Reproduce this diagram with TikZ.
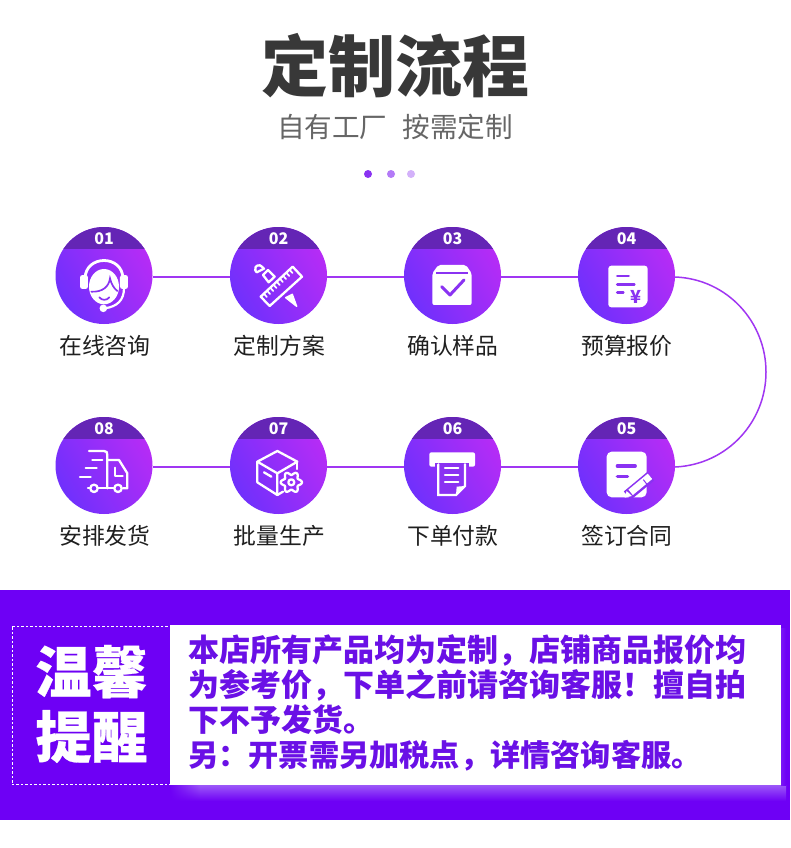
\documentclass[tikz,border=0pt]{standalone}
\usepackage{fontspec}
\newfontfamily\cjk{Noto Sans CJK SC}
\newfontfamily\cjkheavy[BoldFeatures={FakeBold=.5}]{Noto Sans CJK SC}
\usetikzlibrary{calc,fadings}
\definecolor{cA}{HTML}{7030FC}
\definecolor{cB}{HTML}{B62CF6}
\definecolor{cBand}{HTML}{6425B5}
\definecolor{cLine}{HTML}{A036F2}
\definecolor{cBan}{HTML}{6E00F5}
\definecolor{cTxt}{HTML}{6A10E6}
\definecolor{cIn}{HTML}{8A32F2}
\definecolor{cGlow}{HTML}{9C58F8}
\tikzset{
  stepcircle/.style={circle,minimum size=97pt,inner sep=0pt,left color=cA,right color=cB,shading angle=120,
    path picture={\fill[cBand] (path picture bounding box.north west) rectangle ([yshift=-21.7pt]path picture bounding box.north east);}},
  numtext/.style={text=white,inner sep=0pt,font=\cjk\bfseries\fontsize{16}{17}\selectfont},
  steplabel/.style={text=black!88,inner sep=0pt,font=\cjk\fontsize{22.8}{24}\selectfont},
  conn/.style={cLine,line width=1.5pt},
  wl/.style={white,line width=2.3pt,line join=round,line cap=round},
  pl/.style={cIn,line width=2.8pt,line cap=round},
  dotn/.style={circle,minimum size=8pt,inner sep=0pt,draw=none},
}
\newcommand{\stepitem}[6]{%
  \node[stepcircle] (s#1) at (#2,#3) {};
  \node[numtext] (n#1) at ($(s#1.center)+(0,-36.5)$) {#4};
  \node[steplabel] (l#1) at ($(s#1.center)+(#6,70)$) {#5};
}
\begin{document}
\begin{tikzpicture}[x=1pt,y=-1pt]
\useasboundingbox (0,0) rectangle (790,848);
\fill[white] (0,0) rectangle (790,848);
% heading
\node[inner sep=0pt,text=black!78,font=\cjk\bfseries\fontsize{67}{70}\selectfont] (title) at (395,66) {定制流程};
\node[inner sep=0pt,text=black!60,font=\cjk\fontsize{27.6}{29}\selectfont] (sub) at (395,127) {自有工厂\hspace{15pt}按需定制};
\node[dotn,fill=cIn] (d1) at (368,174) {};
\node[dotn,fill=cIn!65] (d2) at (391,174) {};
\node[dotn,fill=cIn!38] (d3) at (411,174) {};
% steps
\stepitem{1}{104}{275.5}{01}{在线咨询}{0.8}
\stepitem{2}{278.5}{275.5}{02}{定制方案}{0.8}
\stepitem{3}{452.5}{275.5}{03}{确认样品}{0.3}
\stepitem{4}{626.5}{275.5}{04}{预算报价}{0.3}
\stepitem{5}{626.5}{465.5}{05}{签订合同}{0.3}
\stepitem{6}{452.5}{465.5}{06}{下单付款}{0.3}
\stepitem{7}{278.5}{465.5}{07}{批量生产}{0.8}
\stepitem{8}{104}{465.5}{08}{安排发货}{0.8}
% connectors
\draw[conn] ([yshift=-1.5pt]s1.east) -- ([yshift=-1.5pt]s2.west);
\draw[conn] ([yshift=-1.5pt]s2.east) -- ([yshift=-1.5pt]s3.west);
\draw[conn] ([yshift=-1.5pt]s3.east) -- ([yshift=-1.5pt]s4.west);
\draw[conn] ([yshift=-1.5pt]s4.east) .. controls +(52,2) and (766,322) .. (766,372) .. controls (766,422) and ($(s5.east)+(52,-1)$) .. ([yshift=-1.5pt]s5.east);
\draw[conn] ([yshift=-1.5pt]s5.west) -- ([yshift=-1.5pt]s6.east);
\draw[conn] ([yshift=-1.5pt]s6.west) -- ([yshift=-1.5pt]s7.east);
\draw[conn] ([yshift=-1.5pt]s7.west) -- ([yshift=-1.5pt]s8.east);
% icon 1 headset
\begin{scope}[shift={(74,255)},x=.3333pt,y=-.3333pt]
  \draw[wl,line width=2.8pt] (33,72) .. controls (33,-2) and (147,-2) .. (147,72);
  \fill[white,rounded corners=2.5pt] (18,60) rectangle (42,102);
  \fill[white,rounded corners=2.5pt] (138,60) rectangle (162,102);
  \fill[white] (90,95) ellipse [x radius=45,y radius=53];
  \draw[cIn,line width=1.7pt,line cap=round] (52,110) .. controls (85,112) and (105,95) .. (108,70) .. controls (112,88) and (120,100) .. (130,108);
  \draw[cIn,line width=1.7pt,line cap=round] (76,127) .. controls (84,137) and (98,137) .. (106,127);
  \draw[wl,line width=2.2pt] (150,100) .. controls (150,135) and (130,155) .. (92,160);
  \fill[white] (88,160) circle (3.8pt);
\end{scope}
% icon 2 ruler and pencil
\begin{scope}[shift={(248,255)},x=.3333pt,y=-.3333pt]
  \coordinate (ra) at (38,125);
  \coordinate (rb) at (65,153);
  \coordinate (rc) at (162,65);
  \coordinate (rd) at (134,35);
  \draw[wl] (ra) -- (rb) -- (rc) -- (rd) -- cycle;
  \foreach \t in {.1,.2,.3,.4,.5,.6,.7,.8,.9}
    \draw[wl,line width=1.7pt] ($(rd)!\t!(ra)$) -- ++(9,10);
  \draw[wl] (26,52) -- (22,46) .. controls (18,32) and (35,25) .. (43,36) -- (48,41) -- cycle;
  \draw[wl] (45,60) -- (60,45) -- (80,65) -- (62,82) -- cycle;
  \draw[wl,line width=1.4pt,fill=white] (113,128) -- (133,118) -- (146,154) -- cycle;
\end{scope}
% icon 3 box
\begin{scope}[shift={(390,215)},x=.3333pt,y=-.3333pt]
  \fill[white,rounded corners=2pt] (127,175) -- (145,150) -- (228,150) -- (245,175) -- (245,270) -- (127,270) -- cycle;
  \draw[cIn,line width=2.2pt] (138,173) -- (235,173);
  \draw[cIn,line width=3pt,line cap=round,line join=round] (155,215) -- (180,240) -- (222,195);
\end{scope}
% icon 4 bill
\begin{scope}[shift={(390,215)},x=.3333pt,y=-.3333pt]
  \fill[white,rounded corners=3pt] (655,152) -- (773,152) -- (773,250) [rounded corners=8pt] -- (773,277) [rounded corners=3pt] -- (655,277) -- cycle;
  \draw[pl] (682,183) -- (716,183);
  \draw[pl] (682,208) -- (733,208);
  \draw[pl] (682,232) -- (700,232);
  \node[inner sep=0pt,text=cIn,font=\cjk\bfseries\fontsize{18}{19}\selectfont] (yen) at (739,245) {¥};
\end{scope}
% icon 5 note and pen
\begin{scope}[shift={(390,405)},x=.3333pt,y=-.3333pt]
  \fill[white,rounded corners=5pt] (650,140) rectangle (770,277);
  \draw[pl,line width=3.2pt] (682,183) -- (736,183);
  \draw[pl,line width=3.2pt] (682,215) -- (713,215);
  \draw[cIn,line width=11pt] (712,272) -- (782,214);
  \draw[white,line width=7pt] (722,262) -- (780,214);
  \fill[white] (704,278) -- (710,258) -- (726,273) -- cycle;
  \draw[cIn,line width=1pt] (760,224) -- (771,238);
\end{scope}
% icon 6 printer
\begin{scope}[shift={(420,445)},x=.3333pt,y=-.3333pt]
  \fill[white,rounded corners=2pt] (28,22) rectangle (165,65);
  \fill[cIn] (46,55) rectangle (146,65);
  \draw[wl,fill=cIn,line join=miter] (55,58) -- (55,150) -- (108,150) -- (135,123) -- (135,58);
  \fill[white] (108,150) -- (110,125) -- (135,123) -- cycle;
  \draw[wl] (75,70) -- (115,70);
  \draw[wl] (75,90) -- (115,90);
  \draw[wl] (75,110) -- (115,110);
\end{scope}
% icon 7 box and gear
\begin{scope}[shift={(248,445)},x=.3333pt,y=-.3333pt]
  \draw[wl] (88,18) -- (28,50) -- (88,85) -- (148,50) -- cycle;
  \draw[wl] (28,50) -- (28,112) -- (88,150) -- (88,85);
  \draw[wl] (148,50) -- (148,72);
  \draw[wl] (88,150) -- (105,140);
  \draw[wl] (48,82) -- (70,95);
  \draw[wl] plot[domain=0:360,samples=73,smooth] ({130+(27+5*cos(6*\x))*cos(\x)},{112+(27+5*cos(6*\x))*sin(\x)}) -- cycle;
  \draw[wl] (130,112) circle (3pt);
\end{scope}
% icon 8 truck
\begin{scope}[shift={(74,445)},x=.3333pt,y=-.3333pt]
  \draw[wl] (45,18) -- (90,18) .. controls (98,18) and (100,22) .. (100,30) -- (100,130);
  \draw[wl] (100,45) -- (135,45) -- (160,85) -- (160,130) -- (147,130);
  \draw[wl] (122,68) -- (122,92) -- (146,92);
  \draw[wl] (55,45) -- (85,45);
  \draw[wl] (35,70) -- (68,70);
  \draw[wl] (18,95) -- (50,95);
  \draw[wl] (42,130) -- (48,130);
  \draw[wl] (72,130) -- (118,130);
  \draw[wl] (60,130) circle (3.7pt);
  \draw[wl] (132,130) circle (3.7pt);
\end{scope}
% notice banner
\fill[cBan] (0,590) rectangle (790,820);
\shade[top color=cGlow,bottom color=cBan] (170,785) rectangle (786,801);
\fill[cBan,path fading=east] (170,784) rectangle (200,802);
\shade[left color=cBan!75!cGlow,right color=cBan] (781,628) rectangle (786,785);
\node[draw=none,fill=white,minimum width=611pt,minimum height=160pt,inner sep=0pt,anchor=north west] (panel) at (170,625) {};
\node[draw=white,dashed,line width=.7pt,dash pattern=on 2.5pt off 2pt,minimum width=158.5pt,minimum height=158.5pt,inner sep=0pt,anchor=north west] (tag) at (11.5,625.5) {};
\node[inner sep=0pt,text=white,align=center,font=\cjkheavy\bfseries\fontsize{56}{65}\selectfont] (tagtext) at (91.5,704) {温馨\\提醒};
\node[inner sep=0pt,anchor=north west,text=cTxt,align=left,font=\cjk\bfseries\fontsize{31}{35}\selectfont] (msg) at (188,634.5) {本店所有产品均为定制，店铺商品报价均\\为参考价，下单之前请咨询客服！擅自拍\\下不予发货。\\\fontsize{30.2}{35}\selectfont 另：开票需另加税点，详情咨询客服。};
\end{tikzpicture}
\end{document}
